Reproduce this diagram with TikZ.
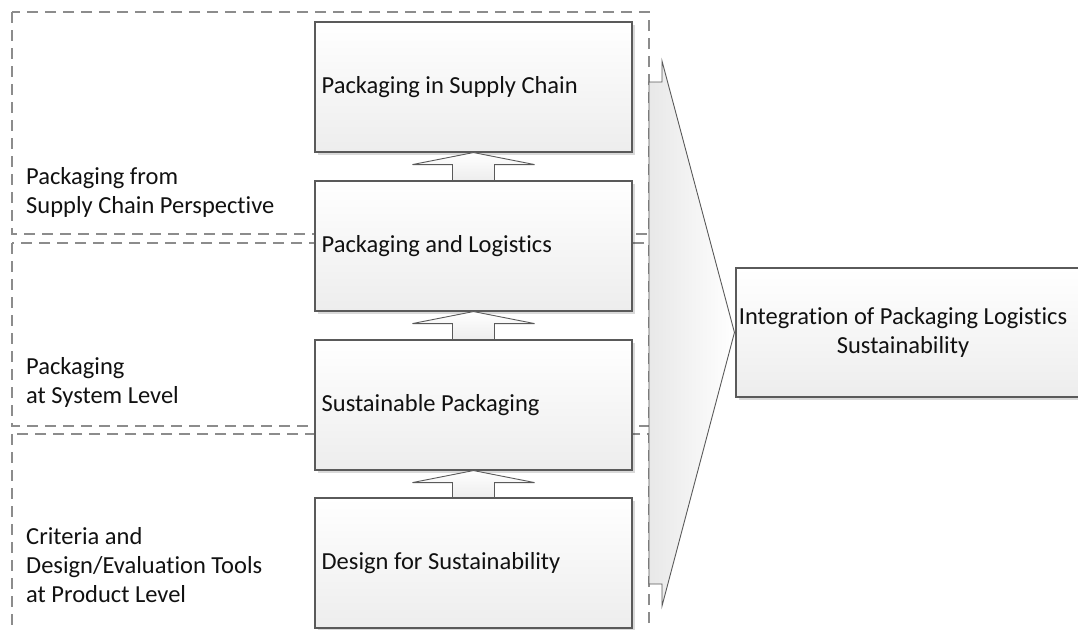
\documentclass[tikz,border=0pt]{standalone}
\usepackage{fontspec}
\setmainfont{Carlito}[Ligatures={NoCommon,NoContextual}]
\usetikzlibrary{shadows,calc}
\definecolor{edge}{HTML}{5A5A5A}
\definecolor{dashc}{HTML}{8C8C8C}
\definecolor{boxbot}{HTML}{EDEDED}
\definecolor{brk}{HTML}{E8E8E8}
\definecolor{txt}{HTML}{111111}
\newcommand{\diafont}{\fontsize{24.5}{29}\selectfont}
\begin{document}
\begin{tikzpicture}[x=1pt,y=-1pt,
  region/.style={draw=dashc, line width=1.1pt, dash pattern=on 11pt off 7pt},
  box/.style={draw=edge, line width=1.1pt, top color=white, bottom color=boxbot,
    drop shadow={shadow xshift=3pt, shadow yshift=-3pt, fill=black, opacity=0.15},
    minimum width=317pt, minimum height=130pt, inner sep=0pt},
  boxtxt/.style={font=\diafont, text=txt, anchor=west, inner sep=0pt},
  rbox/.style={draw=edge, line width=1.1pt, top color=white, bottom color=boxbot,
    drop shadow={shadow xshift=3pt, shadow yshift=-3pt, fill=black, opacity=0.15},
    minimum width=360pt, minimum height=129pt, inner sep=0pt},
  lbl/.style={font=\diafont, text=txt, align=left, anchor=west, inner sep=0pt},
  blockarrow/.style={draw=edge, line width=0.9pt, top color=white, bottom color=boxbot},
  bracketshape/.style={draw=edge, line width=0.9pt, left color=brk, right color=white}
]
\useasboundingbox (0,0) rectangle (1078,629);
\clip (0,0) rectangle (1078,629);
% dashed regions
\draw[region] (12,12) rectangle (649,234);
\draw[region] (12,243) rectangle (649,426);
\draw[region] (12,434) rectangle (649,660);
% left labels
\node[lbl] (l1) at (26,192) {Packaging from\\Supply Chain Perspective};
\node[lbl] (l2) at (26,382) {Packaging\\at System Level};
\node[lbl] (l3) at (26,565) {Criteria and\\Design/Evaluation Tools\\at Product Level};
% boxes
\node[box] (b1) at (473.5,87) {};
\node[box] (b2) at (473.5,246) {};
\node[box] (b3) at (473.5,405) {};
\node[box] (b4) at (473.5,563) {};
\node[boxtxt] (t1) at ($(b1.west)+(7,0)$) {Packaging in Supply Chain};
\node[boxtxt] (t2) at ($(b2.west)+(7,0)$) {Packaging and Logistics};
\node[boxtxt] (t3) at ($(b3.west)+(7,0)$) {Sustainable Packaging};
\node[boxtxt] (t4) at ($(b4.west)+(7,0)$) {Design for Sustainability};
% block arrows
\foreach \lo/\up in {b2/b1,b3/b2,b4/b3}{
  \draw[blockarrow] (\up.south) -- ($(\up.south)+(61,12)$) -- ($(\up.south)+(21,12)$)
    -- ($(\lo.north)+(21,0)$) -- ($(\lo.north)+(-21,0)$) -- ($(\up.south)+(-21,12)$)
    -- ($(\up.south)+(-61,12)$) -- cycle;
}
% right box
\node[rbox] (R) at (916,332.5) {};
\node[font=\diafont, text=txt, align=center, inner sep=0pt] (Rt) at (903,332.5)
  {Integration of Packaging Logistics\\Sustainability};
% bracket
\coordinate (tip) at ($(R.west)+(-1,0)$);
\draw[bracketshape] (649,82) -- (662,82) -- (662,61) -- (tip) -- (662,606)
  -- (662,584) -- (649,584) -- cycle;
\end{tikzpicture}
\end{document}
